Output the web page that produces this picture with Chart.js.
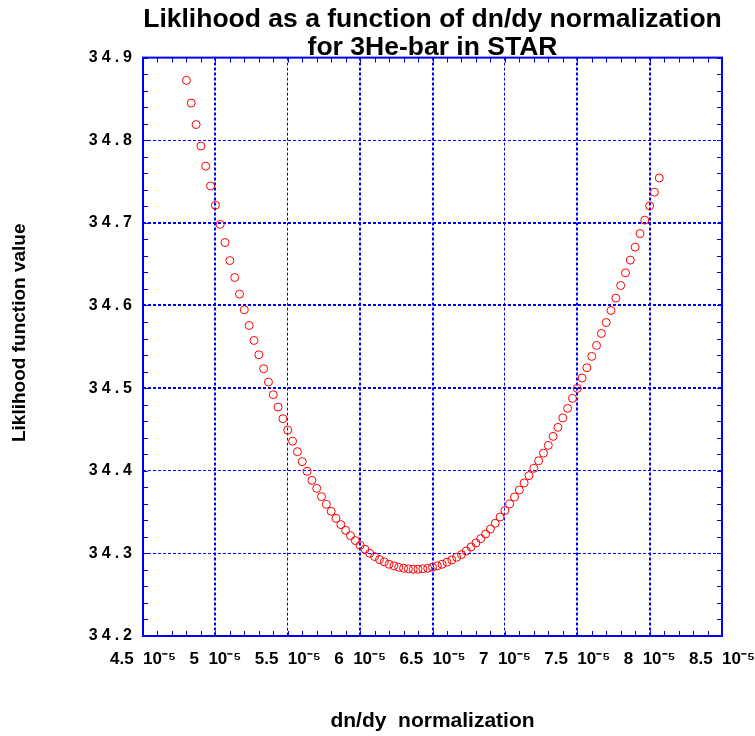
<!DOCTYPE html>
<html>
<head>
<meta charset="utf-8">
<script src="https://cdn.jsdelivr.net/npm/chart.js@4.4.1/dist/chart.umd.min.js"></script>
<style>
  html, body { margin: 0; padding: 0; background: #fff; }
  #wrap { width: 755px; height: 736px; }
</style>
</head>
<body>
<div id="wrap"><canvas id="likeChart" width="755" height="736"></canvas></div>
<script>
// dn/dy normalization, in units of 10^-5
const normValues = [
  4.8000, 4.8333, 4.8667, 4.9000, 4.9333, 4.9667, 5.0000, 5.0333, 5.0667, 5.1000,
  5.1333, 5.1667, 5.2000, 5.2333, 5.2667, 5.3000, 5.3333, 5.3667, 5.4000, 5.4333,
  5.4667, 5.5000, 5.5333, 5.5667, 5.6000, 5.6333, 5.6667, 5.7000, 5.7333, 5.7667,
  5.8000, 5.8333, 5.8667, 5.9000, 5.9333, 5.9667, 6.0000, 6.0333, 6.0667, 6.1000,
  6.1333, 6.1667, 6.2000, 6.2333, 6.2667, 6.3000, 6.3333, 6.3667, 6.4000, 6.4333,
  6.4667, 6.5000, 6.5333, 6.5667, 6.6000, 6.6333, 6.6667, 6.7000, 6.7333, 6.7667,
  6.8000, 6.8333, 6.8667, 6.9000, 6.9333, 6.9667, 7.0000, 7.0333, 7.0667, 7.1000,
  7.1333, 7.1667, 7.2000, 7.2333, 7.2667, 7.3000, 7.3333, 7.3667, 7.4000, 7.4333,
  7.4667, 7.5000, 7.5333, 7.5667, 7.6000, 7.6333, 7.6667, 7.7000, 7.7333, 7.7667,
  7.8000, 7.8333, 7.8667, 7.9000, 7.9333, 7.9667, 8.0000, 8.0333, 8.0667
];

// likelihood function value at each normalization
const likelihoodValues = [
  34.8725, 34.8450, 34.8190, 34.7930, 34.7686, 34.7447, 34.7214, 34.6982, 34.6762, 34.6544,
  34.6339, 34.6138, 34.5948, 34.5758, 34.5577, 34.5404, 34.5235, 34.5074, 34.4920, 34.4771,
  34.4630, 34.4492, 34.4358, 34.4231, 34.4110, 34.3993, 34.3884, 34.3787, 34.3687, 34.3594,
  34.3509, 34.3424, 34.3348, 34.3279, 34.3215, 34.3155, 34.3098, 34.3050, 34.3001, 34.2961,
  34.2925, 34.2897, 34.2868, 34.2849, 34.2832, 34.2820, 34.2813, 34.2808, 34.2808, 34.2813,
  34.2820, 34.2832, 34.2849, 34.2868, 34.2893, 34.2921, 34.2953, 34.2985, 34.3029, 34.3078,
  34.3126, 34.3178, 34.3235, 34.3295, 34.3364, 34.3440, 34.3518, 34.3599, 34.3682, 34.3767,
  34.3853, 34.3941, 34.4030, 34.4121, 34.4213, 34.4307, 34.4416, 34.4525, 34.4639, 34.4755,
  34.4876, 34.4996, 34.5122, 34.5247, 34.5384, 34.5517, 34.5661, 34.5794, 34.5940, 34.6090,
  34.6242, 34.6395, 34.6549, 34.6706, 34.6871, 34.7033, 34.7206, 34.7371, 34.7544
];

// axis ticks
const xTicks = [4.5, 5, 5.5, 6, 6.5, 7, 7.5, 8, 8.5];
const yTicks = [34.2, 34.3, 34.4, 34.5, 34.6, 34.7, 34.8, 34.9];

// grid lines that print heavier in the original
const xHeavyGrid = [5, 6, 6.5, 7.5, 8];
const yHeavyGrid = [34.5, 34.6, 34.7];

const yAxisTitle = 'Liklihood function value';

const BLUE = '#0000ff';
const RED = '#ff0000';
const FONT = "'Liberation Sans', Arial, Helvetica, sans-serif";

Chart.defaults.font.family = FONT;
Chart.defaults.color = '#000';

const isHeavy = (list, v) => list.some(h => Math.abs(h - v) < 1e-6);

// frame, inward minor ticks, y title, and letter spacing for the y labels
const framePlugin = {
  id: 'framePlugin',
  afterDatasetsDraw(chart) {
    chart.ctx.letterSpacing = '4px';
  },
  afterDraw(chart) {
    const { ctx, chartArea: a, scales: { x, y } } = chart;
    ctx.letterSpacing = '0px';
    ctx.save();
    ctx.strokeStyle = BLUE;
    ctx.lineWidth = 1;
    ctx.beginPath();
    for (let k = 45; k <= 85; k++) {
      const px = Math.round(x.getPixelForValue(k / 10)) + 0.5;
      ctx.moveTo(px, a.bottom); ctx.lineTo(px, a.bottom - 5);
      ctx.moveTo(px, a.top); ctx.lineTo(px, a.top + 5);
    }
    for (let k = 3420; k <= 3490; k += 2) {
      const py = Math.round(y.getPixelForValue(k / 100)) + 0.5;
      ctx.moveTo(a.left, py); ctx.lineTo(a.left + 5, py);
      ctx.moveTo(a.right, py); ctx.lineTo(a.right - 5, py);
    }
    ctx.stroke();
    ctx.lineWidth = 2;
    ctx.strokeRect(a.left, a.top, a.right - a.left, a.bottom - a.top);

    // y axis title, sits a little above the middle of the plot in the original
    ctx.translate(20, y.getPixelForValue(34.567));
    ctx.rotate(-Math.PI / 2);
    ctx.fillStyle = '#000';
    ctx.font = "bold 19px " + FONT;
    ctx.textAlign = 'center';
    ctx.textBaseline = 'middle';
    ctx.fillText(yAxisTitle, 0, 0);
    ctx.restore();
  }
};

new Chart(document.getElementById('likeChart'), {
  type: 'scatter',
  data: {
    datasets: [{
      label: 'Likelihood',
      data: normValues.map((v, i) => ({ x: v, y: likelihoodValues[i] })),
      pointStyle: 'circle',
      pointRadius: 4,
      pointBorderWidth: 1,
      borderColor: RED,
      backgroundColor: 'rgba(0,0,0,0)',
      showLine: false,
      clip: false
    }]
  },
  options: {
    responsive: false,
    animation: false,
    devicePixelRatio: 1,
    layout: { autoPadding: false, padding: { left: 0, right: 33, top: 0, bottom: 0 } },
    plugins: {
      legend: { display: false },
      tooltip: { enabled: false },
      title: {
        display: true,
        fullSize: false,
        text: ['Liklihood as a function of dn/dy normalization', 'for 3He-bar in STAR'],
        color: '#000',
        font: { size: 26.5, weight: 'bold', lineHeight: 1.04 },
        padding: { top: 6, bottom: -3.5 }
      }
    },
    scales: {
      x: {
        type: 'linear',
        min: 4.5,
        max: 8.5,
        afterBuildTicks: s => { s.ticks = xTicks.map(v => ({ value: v })); },
        afterFit: s => { s.height = 100; s.paddingLeft = 0; s.paddingRight = 0; },
        grid: {
          color: BLUE,
          lineWidth: c => (c.tick && isHeavy(xHeavyGrid, c.tick.value)) ? 2 : 1,
          drawTicks: false
        },
        border: { display: false, dash: [3, 2] },
        ticks: {
          z: 0,
          padding: 13,
          maxRotation: 0,
          autoSkip: false,
          color: '#000',
          font: { size: 17, weight: 'bold' },
          callback: v => v + '  10\u207B\u2075'
        },
        title: {
          display: true,
          text: 'dn/dy  normalization',
          color: '#000',
          font: { size: 21, weight: 'bold' },
          padding: { top: 0, bottom: 2 }
        }
      },
      y: {
        type: 'linear',
        min: 34.2,
        max: 34.9,
        afterBuildTicks: s => { s.ticks = yTicks.map(v => ({ value: v })); },
        afterFit: s => { s.width = 143; s.paddingTop = 0; s.paddingBottom = 0; },
        grid: {
          color: BLUE,
          lineWidth: c => (c.tick && isHeavy(yHeavyGrid, c.tick.value)) ? 2 : 1,
          drawTicks: false
        },
        border: { display: false, dash: [3, 2] },
        ticks: {
          z: 1,
          padding: 7,
          autoSkip: false,
          color: '#000',
          font: { size: 16, weight: 'bold' },
          callback: v => v.toFixed(1)
        },
        title: { display: false }
      }
    }
  },
  plugins: [framePlugin]
});
</script>
</body>
</html>
